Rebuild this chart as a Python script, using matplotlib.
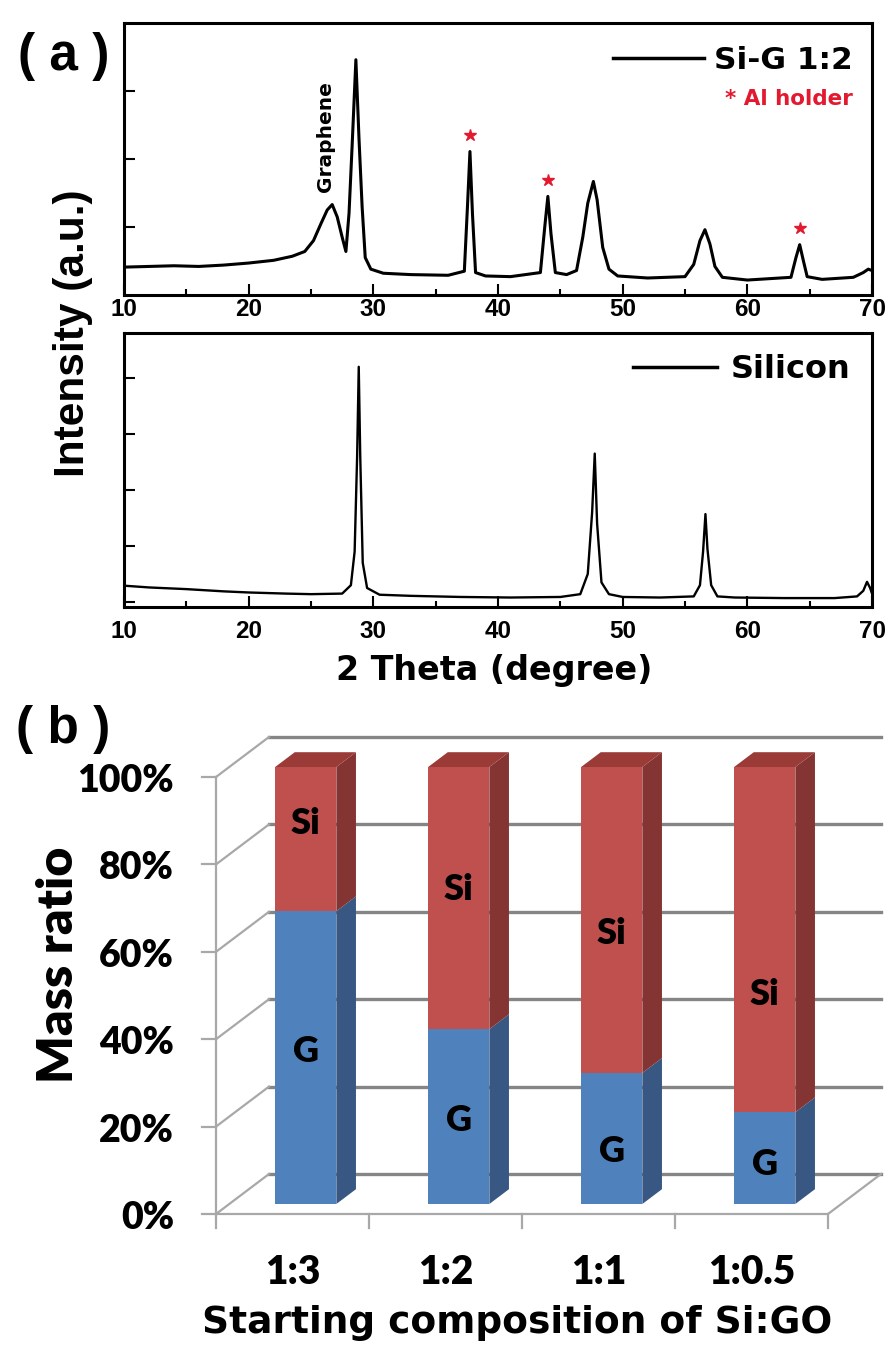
import matplotlib
matplotlib.use('Agg')
import matplotlib.pyplot as plt
from matplotlib.patches import Polygon
import numpy as np

W, H = 888, 1348

# ---- (a) XRD patterns ----
sig_theta = [10, 12, 14, 16, 18, 20, 22, 23.5, 24.5, 25.2, 25.8, 26.3, 26.7, 27.1, 27.5,
             27.8, 28.05, 28.3, 28.6, 28.85, 29.1, 29.35, 29.8, 30.8, 33, 36, 37.3, 37.55,
             37.75, 37.95, 38.2, 39, 41, 43.4, 43.75, 44.0, 44.25, 44.6, 45.5, 46.3, 46.8,
             47.2, 47.65, 47.95, 48.4, 48.9, 49.6, 52, 55.0, 55.7, 56.2, 56.6, 57.0, 57.4,
             58.0, 60, 63.5, 63.9, 64.2, 64.5, 64.8, 66, 68.5, 69.3, 69.7, 70]
sig_int = [0.41, 0.42, 0.43, 0.42, 0.44, 0.47, 0.51, 0.57, 0.64, 0.80, 1.05, 1.25, 1.33, 1.15, 0.85,
           0.64, 1.2, 2.2, 3.46, 2.3, 1.3, 0.55, 0.38, 0.32, 0.30, 0.29, 0.35, 1.3,
           2.11, 1.2, 0.33, 0.28, 0.27, 0.33, 1.0, 1.45, 0.9, 0.33, 0.30, 0.36, 0.85,
           1.35, 1.67, 1.4, 0.7, 0.38, 0.28, 0.25, 0.27, 0.45, 0.8, 0.96, 0.75, 0.42,
           0.26, 0.22, 0.26, 0.55, 0.74, 0.5, 0.27, 0.23, 0.26, 0.33, 0.38, 0.36]

si_theta = [10.1, 12, 15, 18, 20, 23, 25, 27.5, 28.2, 28.5, 28.7, 28.83, 28.95, 29.15, 29.5,
            30.5, 33, 37, 41, 45, 46.6, 47.2, 47.55, 47.76, 47.95, 48.3, 48.9, 50, 53, 55.7,
            56.2, 56.45, 56.64, 56.8, 57.1, 57.6, 59, 63, 67, 68.8, 69.3, 69.6, 69.85, 70]
si_int = [0.29, 0.26, 0.23, 0.19, 0.17, 0.15, 0.14, 0.15, 0.3, 0.9, 2.6, 4.2, 2.6, 0.7, 0.25,
          0.13, 0.11, 0.09, 0.08, 0.09, 0.14, 0.5, 1.6, 2.65, 1.4, 0.35, 0.14, 0.09, 0.08, 0.1,
          0.3, 0.9, 1.57, 0.95, 0.3, 0.1, 0.08, 0.07, 0.07, 0.1, 0.2, 0.36, 0.25, 0.15]

al_peaks = [37.75, 44.0, 64.2]

# ---- (b) mass ratio ----
compositions = ['1:3', '1:2', '1:1', '1:0.5']
g_ratio = [67, 40, 30, 21]
si_ratio = [100 - g for g in g_ratio]
g_label_y = [35, 19, 12, 9]
si_label_y = [87, 72, 62, 48]

plt.rcParams['font.family'] = ['Liberation Sans', 'DejaVu Sans']
plt.rcParams['font.weight'] = 'bold'
LATO = {'family': 'Lato', 'weight': 'heavy'}


def box(left, top, right, bottom):
    # pixel box -> figure fraction
    return [left / W, 1 - bottom / H, (right - left) / W, (bottom - top) / H]


def fx(px):
    return px / W


def fy(py):
    return 1 - py / H


fig = plt.figure(figsize=(W / 100, H / 100), dpi=100)


def style_xrd(ax, yticks, label_pad):
    ax.set_xlim(10, 70)
    ax.set_xticks(range(10, 71, 10))
    ax.set_xticks(range(15, 70, 10), minor=True)
    ax.set_yticks(yticks)
    ax.set_yticklabels([])
    ax.tick_params(which='major', direction='in', length=8, width=1.5, labelsize=17.5, pad=label_pad)
    ax.tick_params(which='minor', direction='in', length=4.5, width=1.5)
    for s in ax.spines.values():
        s.set_linewidth(2.2)


# top: Si-G 1:2
ax1 = fig.add_axes(box(124, 23, 872, 295))
ax1.plot(sig_theta, sig_int, color='black', lw=2.2)
ax1.set_ylim(0, 4)
style_xrd(ax1, [1, 2, 3], 2.5)
leg = ax1.legend(['Si-G 1:2'], loc='upper right', bbox_to_anchor=((853 - 124) / 748, (295 - 46) / 272),
                 frameon=False, borderpad=0, borderaxespad=0, handlelength=2.9, handletextpad=0.33,
                 prop={'family': 'DejaVu Sans', 'weight': 'bold', 'size': 22.5})
for ln in leg.get_lines():
    ln.set_linewidth(2.5)
ax1.text((853 - 124) / 748, (295 - 105) / 272, '* Al holder', transform=ax1.transAxes,
         ha='right', va='baseline', color='#E3192F', fontsize=15.5, family='DejaVu Sans')
star_y = np.interp(al_peaks, sig_theta, sig_int) + 0.24
ax1.plot(al_peaks, star_y, linestyle='none', marker='*', ms=9, color='#E3192F', mec='#E3192F')
ax1.text(26.2, 1.51, 'Graphene', rotation=90, ha='center', va='bottom', fontsize=14.5, family='DejaVu Sans')

# bottom: Silicon
ax2 = fig.add_axes(box(124, 333, 872, 607))
ax2.plot(si_theta, si_int, color='black', lw=1.7)
ax2.set_ylim((602 - 607) / 56, (602 - 333) / 56)
style_xrd(ax2, [0, 1, 2, 3, 4], 9)
leg2 = ax2.legend(['Silicon'], loc='upper right', bbox_to_anchor=((850 - 124) / 748, (607 - 354) / 274),
                  frameon=False, borderpad=0, borderaxespad=0, handlelength=2.66, handletextpad=0.4,
                  prop={'family': 'DejaVu Sans', 'weight': 'bold', 'size': 23})
for ln in leg2.get_lines():
    ln.set_linewidth(2.5)

fig.text(fx(73), fy(333), 'Intensity (a.u.)', rotation=90, ha='center', va='center', fontsize=30.5)
fig.text(fx(494), fy(680), '2 Theta (degree)', ha='center', va='baseline', fontsize=24, family='DejaVu Sans')
fig.text(fx(64), fy(70), '( a )', ha='center', va='baseline', fontsize=37)
fig.text(fx(63), fy(743), '( b )', ha='center', va='baseline', fontsize=37)

# ---- (b) 3-D look stacked bars ----
PX_CAT = 153.0    # pixels per category
PX_PCT = 4.37     # pixels per percent
X0, Y0 = 216, 1214  # pixel of front axis origin (x=-0.5, 0%)
ax_b = fig.add_axes(box(0, 690, W, H))
ax_b.set_xlim(-0.5 - X0 / PX_CAT, -0.5 + (W - X0) / PX_CAT)
ax_b.set_ylim((Y0 - H) / PX_PCT, (Y0 - 690) / PX_PCT)
ax_b.axis('off')

DX, DY = 53 / PX_CAT, 40 / PX_PCT   # wall depth
d0, d1 = 0.25, 0.62                 # bar front / back depth
bar_w = 0.40
n = len(compositions)
wall_dark = '#858585'
wall_light = '#A8A8A8'

pct_ticks = list(range(0, 101, 20))
for v in pct_ticks:
    ax_b.plot([-0.5 + DX, n - 0.5 + DX], [v + DY, v + DY], color=wall_dark, lw=2.4, zorder=1)
    ax_b.plot([-0.5, -0.5 + DX], [v, v + DY], color=wall_light, lw=1.6, zorder=1)
    ax_b.plot([-0.5 - 14 / PX_CAT, -0.5], [v, v], color=wall_light, lw=1.6, zorder=1)
    ax_b.text(-0.5 - 42 / PX_CAT, v - 15 / PX_PCT, '%d%%' % v, ha='right', va='baseline',
              fontsize=27, **LATO)
ax_b.plot([-0.5, -0.5], [0, 100], color=wall_light, lw=1.6, zorder=1)
ax_b.plot([-0.5, n - 0.5], [0, 0], color=wall_light, lw=1.6, zorder=1)
ax_b.plot([n - 0.5, n - 0.5 + DX], [0, DY], color=wall_light, lw=1.6, zorder=1)
for k in range(n + 1):
    ax_b.plot([k - 0.5, k - 0.5], [0, -14 / PX_PCT], color=wall_light, lw=1.6, zorder=1)

x_front = np.arange(n) + d0 * DX
base = d0 * DY
ax_b.bar(x_front, g_ratio, width=bar_w, bottom=base, color='#4F81BD', zorder=3)
ax_b.bar(x_front, si_ratio, width=bar_w, bottom=[base + g for g in g_ratio], color='#C0504D', zorder=3)

ddx, ddy = (d1 - d0) * DX, (d1 - d0) * DY
for i in range(n):
    xl = x_front[i] - bar_w / 2
    xr = x_front[i] + bar_w / 2
    g = base + g_ratio[i]
    top = g + si_ratio[i]
    ax_b.add_patch(Polygon([(xr, base), (xr + ddx, base + ddy), (xr + ddx, g + ddy), (xr, g)],
                           closed=True, fc='#385782', ec='none', zorder=3))
    ax_b.add_patch(Polygon([(xr, g), (xr + ddx, g + ddy), (xr + ddx, top + ddy), (xr, top)],
                           closed=True, fc='#843432', ec='none', zorder=3))
    ax_b.add_patch(Polygon([(xl, top), (xr, top), (xr + ddx, top + ddy), (xl + ddx, top + ddy)],
                           closed=True, fc='#9A3B38', ec='none', zorder=3))
    ax_b.text(x_front[i], base + g_label_y[i], 'G', ha='center', va='center', fontsize=26,
              zorder=4, **LATO)
    ax_b.text(x_front[i], base + si_label_y[i], 'Si', ha='center', va='center', fontsize=26,
              zorder=4, **LATO)
    ax_b.text(i, -70 / PX_PCT, compositions[i], ha='center', va='baseline', fontsize=28, **LATO)

ax_b.text(-0.5 + (58 - X0) / PX_CAT, (Y0 - 965) / PX_PCT, 'Mass ratio', rotation=90,
          ha='center', va='center', fontsize=36, **LATO)
ax_b.text(-0.5 + (517 - X0) / PX_CAT, (Y0 - 1333) / PX_PCT, 'Starting composition of Si:GO',
          ha='center', va='baseline', fontsize=27, family='DejaVu Sans', weight='bold')

fig.savefig('out.png', dpi=100)
